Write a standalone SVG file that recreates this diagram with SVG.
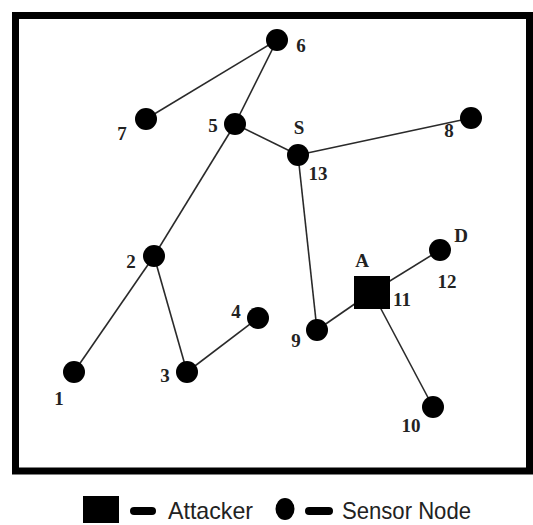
<svg xmlns="http://www.w3.org/2000/svg" width="533" height="525" viewBox="0 0 533 525">
<style>
.edge{stroke:#2a2a2a;stroke-width:1.6;fill:none}
.node{fill:#000}
.lbl{font-family:"Liberation Serif","Times New Roman",serif;font-weight:bold;font-size:19px;fill:#222;text-anchor:middle}
.leg{font-family:"Liberation Sans",Arial,sans-serif;font-size:24px;fill:#222}
.dash{stroke:#000;stroke-width:8;stroke-linecap:round}
</style>
<rect x="0" y="0" width="533" height="525" fill="#fff"/>
<rect id="frame" x="15.5" y="15.5" width="514" height="455.5" fill="none" stroke="#000" stroke-width="7"/>
<g id="connectors">
<line class="edge" x1="277" y1="40" x2="146" y2="119"/>
<line class="edge" x1="277" y1="40" x2="235" y2="124"/>
<line class="edge" x1="235" y1="124" x2="298" y2="155"/>
<line class="edge" x1="235" y1="124" x2="154" y2="256"/>
<line class="edge" x1="298" y1="155" x2="471" y2="118"/>
<line class="edge" x1="298" y1="155" x2="317" y2="330"/>
<line class="edge" x1="154" y1="256" x2="74" y2="372"/>
<line class="edge" x1="154" y1="256" x2="187" y2="372"/>
<line class="edge" x1="187" y1="372" x2="258" y2="318"/>
<line class="edge" x1="317" y1="330" x2="372" y2="292"/>
<line class="edge" x1="372" y1="292" x2="440" y2="250"/>
<line class="edge" x1="372" y1="292" x2="433" y2="407"/>
</g>
<g id="n6"><circle class="node" cx="277" cy="40" r="11"/><text class="lbl" x="301" y="52">6</text></g>
<g id="n7"><circle class="node" cx="146" cy="119" r="11"/><text class="lbl" x="122" y="140">7</text></g>
<g id="n5"><circle class="node" cx="235" cy="124" r="11"/><text class="lbl" x="213" y="132">5</text></g>
<g id="n13"><circle class="node" cx="298" cy="155" r="11"/><text class="lbl" x="299" y="134">S</text><text class="lbl" x="318" y="180">13</text></g>
<g id="n8"><circle class="node" cx="471" cy="118" r="11"/><text class="lbl" x="449" y="137">8</text></g>
<g id="n2"><circle class="node" cx="154" cy="256" r="11"/><text class="lbl" x="131" y="268">2</text></g>
<g id="n12"><circle class="node" cx="440" cy="250" r="11"/><text class="lbl" x="461" y="242">D</text><text class="lbl" x="447" y="288">12</text></g>
<g id="n11"><rect class="node" x="354" y="276" width="36" height="33"/><text class="lbl" x="362" y="267">A</text><text class="lbl" x="402" y="306">11</text></g>
<g id="n4"><circle class="node" cx="258" cy="318" r="11"/><text class="lbl" x="236" y="318">4</text></g>
<g id="n9"><circle class="node" cx="317" cy="330" r="11"/><text class="lbl" x="296" y="347">9</text></g>
<g id="n1"><circle class="node" cx="74" cy="372" r="11"/><text class="lbl" x="59" y="405">1</text></g>
<g id="n3"><circle class="node" cx="187" cy="372" r="11"/><text class="lbl" x="165" y="382">3</text></g>
<g id="n10"><circle class="node" cx="433" cy="407" r="11"/><text class="lbl" x="411" y="432">10</text></g>
<g id="legend">
<rect class="node" x="83" y="496" width="36" height="27"/>
<line class="dash" x1="134" y1="511" x2="152" y2="511"/>
<text class="leg" x="168" y="519" textLength="85" lengthAdjust="spacingAndGlyphs">Attacker</text>
<ellipse class="node" cx="285" cy="509" rx="9.5" ry="11"/>
<line class="dash" x1="309" y1="511" x2="329" y2="511"/>
<text class="leg" x="342" y="519" textLength="129" lengthAdjust="spacingAndGlyphs">Sensor Node</text>
</g>
</svg>
